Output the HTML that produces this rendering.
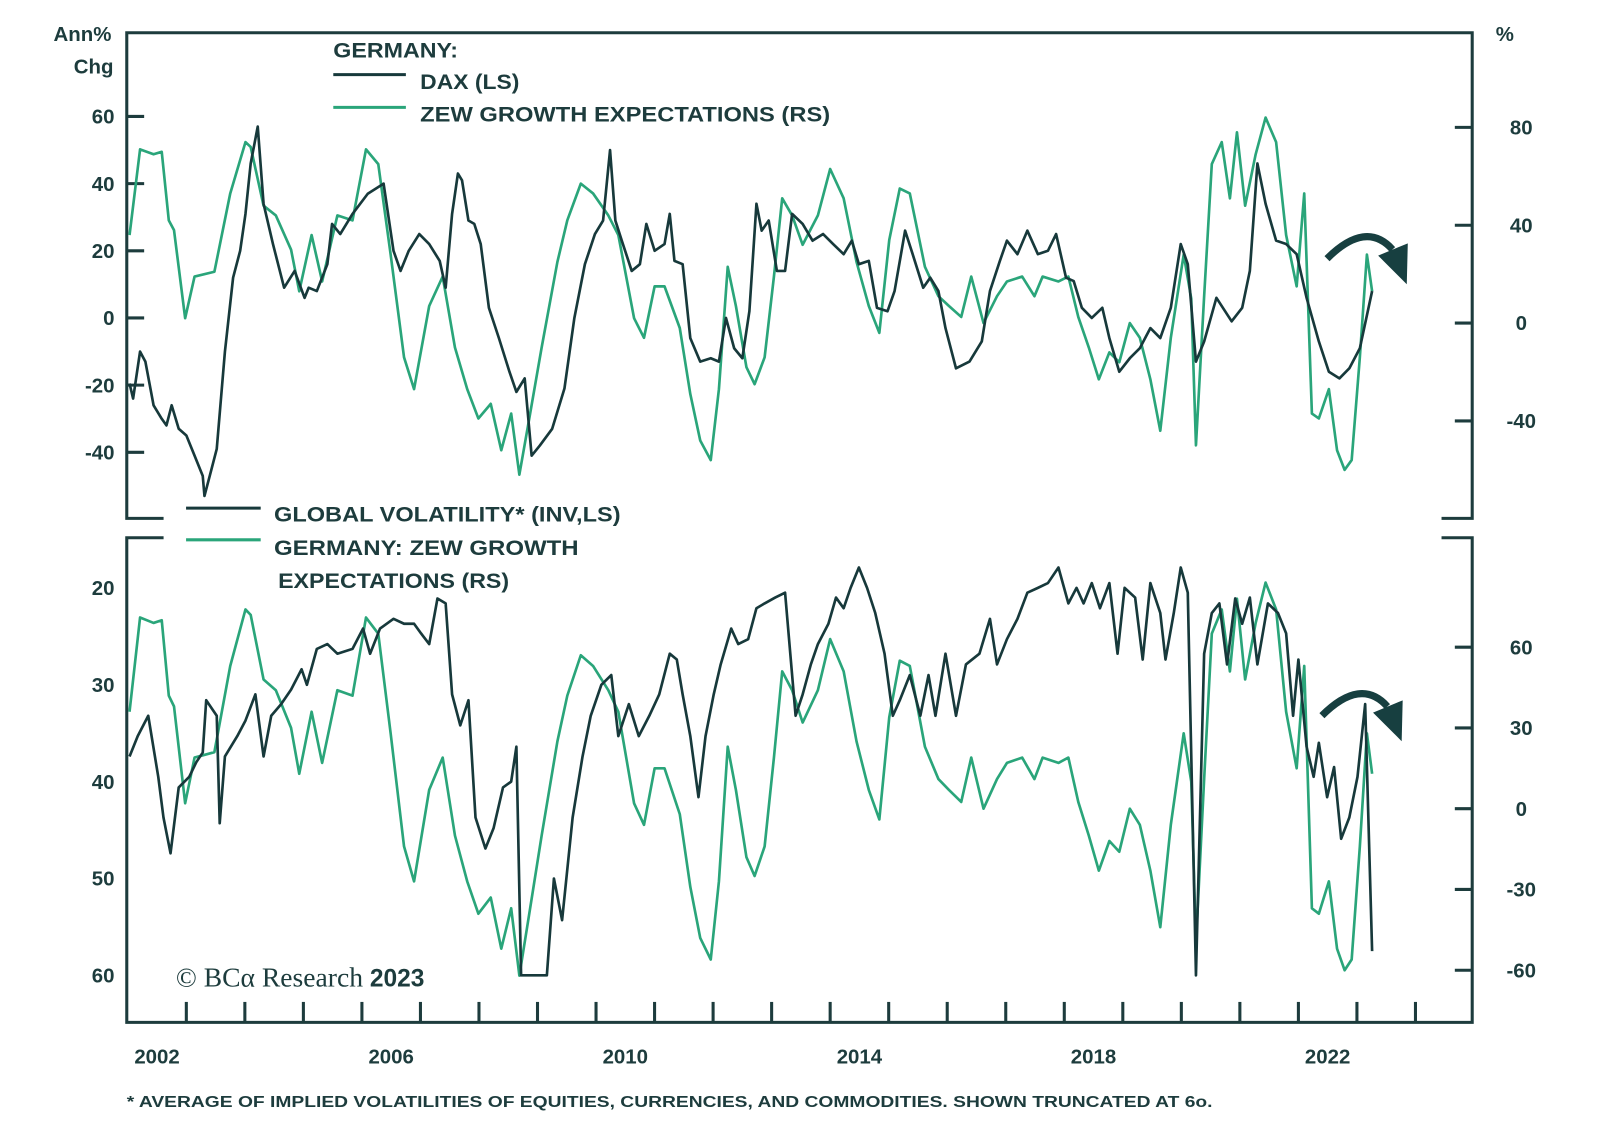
<!DOCTYPE html>
<html><head><meta charset="utf-8">
<style>
html,body{margin:0;padding:0;background:#fff;}
svg{display:block;font-family:"Liberation Sans",sans-serif;}
</style></head>
<body>
<svg id="chart" width="1600" height="1142" viewBox="0 0 1565 1117" xmlns="http://www.w3.org/2000/svg">
<g id="static" fill="#1d3c3d" stroke="none">
  <text x="109" y="40" font-size="20" text-anchor="end" font-weight="bold">Ann%</text>
  <text x="111" y="72" font-size="20" text-anchor="end" font-weight="bold">Chg</text>
  <text x="1463" y="40" font-size="20" font-weight="bold">%</text>
  <g font-size="21" font-weight="bold">
    <text x="326" y="56" textLength="122" lengthAdjust="spacingAndGlyphs">GERMANY:</text>
    <line x1="326" y1="73" x2="397" y2="73" stroke="#17393b" stroke-width="3"/>
    <text x="411" y="87" textLength="97" lengthAdjust="spacingAndGlyphs">DAX (LS)</text>
    <line x1="326" y1="105" x2="397" y2="105" stroke="#2aa57a" stroke-width="3"/>
    <text x="411" y="119" textLength="401" lengthAdjust="spacingAndGlyphs">ZEW GROWTH EXPECTATIONS (RS)</text>
  </g>
  <g font-size="21" font-weight="bold">
    <line x1="182" y1="497" x2="255" y2="497" stroke="#17393b" stroke-width="3"/>
    <text x="268" y="510" textLength="339" lengthAdjust="spacingAndGlyphs">GLOBAL VOLATILITY* (INV,LS)</text>
    <line x1="182" y1="528" x2="255" y2="528" stroke="#2aa57a" stroke-width="3"/>
    <text x="268" y="543" textLength="298" lengthAdjust="spacingAndGlyphs">GERMANY: ZEW GROWTH</text>
    <text x="272" y="575" textLength="226" lengthAdjust="spacingAndGlyphs">EXPECTATIONS (RS)</text>
  </g>
  <text x="172" y="965" font-size="27" font-family="Liberation Serif, serif">© BCα Research <tspan font-family="Liberation Sans, sans-serif" font-weight="bold" font-size="24">2023</tspan></text>
  <text x="124" y="1083" font-size="15" font-weight="bold" textLength="1062" lengthAdjust="spacingAndGlyphs">* AVERAGE OF IMPLIED VOLATILITIES OF EQUITIES, CURRENCIES, AND COMMODITIES. SHOWN TRUNCATED AT 6o.</text>
</g>
<g id="frame" fill="none" stroke="#1d3c3d" stroke-width="3">
  <path d="M160,507 L124,507 L124,32 L1440,32 L1440,507 L1410,507"/>
  <path d="M160,526 L124,526 L124,1000 L1440,1000 L1440,526 L1410,526"/>
</g>
<g id="axes"></g>
<g id="series"></g>
<g id="arrows" fill="#173f40" stroke="#173f40">
  <path d="M1298,253 Q1336,215 1362,244" fill="none" stroke-width="7"/>
  <polygon points="1348,250 1377,238 1376,278" stroke="none"/>
  <path d="M1293,700 Q1331,662 1357,691" fill="none" stroke-width="7"/>
  <polygon points="1343,697 1372,685 1371,725" stroke="none"/>
</g>
</svg>
<script>
const xYears = [2002,2006,2010,2014,2018,2022];
const leftTopTicks = [60,40,20,0,-20,-40];
const rightTopTicks = [80,40,0,-40];
const leftBottomTicks = [20,30,40,50,60];
const rightBottomTicks = [60,30,0,-30,-60];

const zewDates = [2002.03,2002.21,2002.44,2002.58,2002.70,2002.79,2002.98,2003.14,2003.48,2003.75,
2004.01,2004.10,2004.32,2004.53,2004.79,2004.93,2005.14,2005.32,2005.58,2005.84,
2006.07,2006.28,2006.49,2006.72,2006.89,2007.15,2007.38,2007.59,2007.80,2007.99,
2008.20,2008.38,2008.55,2008.69,2008.86,2009.07,2009.34,2009.51,2009.74,2009.95,
2010.21,2010.38,2010.65,2010.82,2011.00,2011.17,2011.43,2011.61,2011.78,2011.96,
2012.10,2012.25,2012.39,2012.57,2012.71,2012.88,2013.04,2013.18,2013.35,2013.53,
2013.79,2014.00,2014.23,2014.45,2014.66,2014.84,2015.01,2015.19,2015.36,2015.62,
2015.85,2016.03,2016.24,2016.41,2016.62,2016.85,2017.02,2017.28,2017.49,2017.63,
2017.90,2018.07,2018.24,2018.42,2018.59,2018.77,2018.94,2019.12,2019.29,2019.47,
2019.64,2019.82,2020.04,2020.17,2020.25,2020.39,2020.52,2020.69,2020.83,2020.95,
2021.09,2021.27,2021.44,2021.62,2021.79,2021.97,2022.10,2022.23,2022.35,2022.52,
2022.66,2022.79,2022.91,2023.05,2023.17,2023.26];
const zewValues = [36,71,69,70,42,38,2,19,21,53,
74,72,48,44,30,13,36,17,44,42,
71,65,28,-14,-27,7,19,-10,-27,-39,
-33,-52,-37,-62,-39,-10,25,42,57,53,
44,36,2,-6,15,15,-2,-29,-48,-56,
-27,23,7,-18,-25,-14,19,51,44,32,
44,63,51,25,7,-4,34,55,53,23,
11,7,2.5,19,0,11,17,19,11,19,
17,19,2.5,-10,-23,-12,-16,0,-6,-23,
-44,-6,28,10,-50,11,65,74,51,78,
48,69,84,74,36,15,53,-37,-39,-27,
-52,-60,-56,-14,28,13];

const daxDates = [2002.03,2002.09,2002.21,2002.30,2002.44,2002.58,2002.66,2002.75,2002.87,2003.00,
2003.14,2003.28,2003.31,2003.43,2003.52,2003.66,2003.80,2003.92,2004.01,2004.10,
2004.22,2004.32,2004.48,2004.67,2004.85,2005.02,2005.09,2005.23,2005.41,2005.49,
2005.63,2005.84,2006.10,2006.37,2006.54,2006.66,2006.80,2006.98,2007.15,2007.33,
2007.43,2007.54,2007.64,2007.71,2007.82,2007.92,2008.03,2008.17,2008.34,2008.52,
2008.64,2008.78,2008.90,2009.04,2009.25,2009.46,2009.63,2009.81,2009.98,2010.12,
2010.24,2010.33,2010.44,2010.61,2010.75,2010.86,2011.00,2011.17,2011.26,2011.34,
2011.48,2011.61,2011.78,2011.96,2012.10,2012.22,2012.36,2012.50,2012.62,2012.74,
2012.83,2012.95,2013.09,2013.23,2013.35,2013.53,2013.70,2013.88,2014.05,2014.23,
2014.37,2014.49,2014.66,2014.80,2014.98,2015.10,2015.28,2015.41,2015.59,2015.71,
2015.85,2015.97,2016.15,2016.38,2016.59,2016.73,2016.90,2017.02,2017.20,2017.37,
2017.55,2017.72,2017.86,2018.03,2018.16,2018.30,2018.47,2018.65,2018.77,2018.94,
2019.12,2019.29,2019.47,2019.64,2019.82,2019.99,2020.11,2020.25,2020.39,2020.60,
2020.86,2021.04,2021.17,2021.30,2021.44,2021.62,2021.79,2021.97,2022.14,2022.35,
2022.52,2022.70,2022.87,2023.05,2023.26];
const daxValues = [-19.5,-24,-10,-13,-26,-30,-32,-26,-33,-35,
-41,-47,-53,-45,-39,-10,12,20,31,46,
57,34,22,9,14,6,9,8,16,28,
25,31,37,40,20,14,20,25,22,17,
9,31,43,41,29,28,22,3,-6,-16,
-22,-18,-41,-38,-33,-21,0,16,25,29,
50,29,23,14,16,28,20,22,31,17,
16,-6,-13,-12,-13,0,-9,-12,2,34,
26,29,14,14,31,28,23,25,22,19,
23,16,17,3,2,8,26,19,9,12,
8,-3,-15,-13,-7,8,17,23,19,26,
19,20,25,12,11,3,0,3,-6,-16,
-12,-9,-3,-6,3,22,16,-13,-7,6,
-1,3,14,46,34,23,22,19,6,-7,
-16,-18,-15,-9,8];

const volDates = [2002.03,2002.17,2002.35,2002.52,2002.61,2002.73,2002.87,2003.05,2003.17,2003.28,
2003.34,2003.52,2003.57,2003.66,2003.87,2004.01,2004.18,2004.32,2004.45,2004.62,
2004.79,2004.97,2005.06,2005.23,2005.41,2005.58,2005.84,2006.02,2006.14,2006.31,
2006.54,2006.72,2006.89,2007.01,2007.15,2007.29,2007.43,2007.54,2007.68,2007.82,
2007.94,2008.11,2008.25,2008.41,2008.55,2008.64,2008.72,2008.99,2009.16,2009.28,
2009.42,2009.60,2009.77,2009.91,2010.09,2010.26,2010.38,2010.56,2010.73,2010.91,
2011.08,2011.26,2011.38,2011.48,2011.61,2011.75,2011.87,2012.01,2012.13,2012.31,
2012.43,2012.60,2012.74,2012.88,2013.06,2013.23,2013.41,2013.53,2013.67,2013.79,
2013.97,2014.10,2014.23,2014.35,2014.49,2014.63,2014.77,2014.93,2015.07,2015.19,
2015.36,2015.54,2015.68,2015.80,2015.97,2016.15,2016.32,2016.55,2016.73,2016.85,
2017.02,2017.20,2017.37,2017.55,2017.72,2017.90,2018.07,2018.21,2018.33,2018.47,
2018.61,2018.77,2018.91,2019.03,2019.21,2019.34,2019.47,2019.64,2019.73,2019.87,
2019.99,2020.11,2020.25,2020.39,2020.52,2020.65,2020.78,2020.92,2021.04,2021.17,
2021.30,2021.48,2021.65,2021.79,2021.91,2022.00,2022.14,2022.26,2022.35,2022.49,
2022.61,2022.73,2022.87,2023.01,2023.14,2023.26];
const volValues = [37.4,35.3,33.2,39.5,43.7,47.4,40.6,39.5,38,37,
31.6,33.2,44.3,37.4,35.3,33.7,31,37.4,33.2,32,
30.5,28.4,30,26.3,25.8,26.8,26.3,24.2,26.8,24.2,
23.2,23.7,23.7,24.7,25.8,21.1,21.6,31,34.2,31.6,
43.7,46.9,44.8,40.6,40,36.4,60,60,60,50,
54.3,43.7,37.4,33.2,30,29,35.3,32,35.3,33.2,
31,26.8,27.4,31,35.3,41.6,35.3,31,27.9,24.2,
25.8,25.3,22.1,21.6,21,20.5,33.2,31,27.9,25.8,
23.7,21,22.1,20,17.9,20,22.6,26.8,33.2,31.6,
29,33.2,29,33.2,26.8,33.2,27.9,26.8,23.2,27.9,
25.3,23.2,20.5,20,19.5,17.9,21.6,20,21.6,19.5,
22.1,19.5,26.8,20,21,27.4,19.5,22.6,27.4,22.6,
17.9,20.5,60,26.8,22.6,21.6,27.9,21.1,23.7,21,
27.9,21.6,22.6,24.7,33.2,27.4,36.4,39.5,36,41.6,
38.5,45.9,43.7,39.5,32,57.5];

const NS = 'http://www.w3.org/2000/svg';
const DARK = '#17393b', GREEN = '#2aa57a', INK = '#1d3c3d';
function xOf(y){ return 125 + (y - 2002) * 57.25; }
function yTopL(v){ return 311 - v * 65.7 / 20; }
function yTopR(v){ return 316 - v * 95.7 / 40; }
function yBotL(v){ return 575 + (v - 20) * 94.75 / 10; }
function yBotR(v){ return 791 - v * 79 / 30; }

function mk(tag, attrs, parent){
  const el = document.createElementNS(NS, tag);
  for (const k in attrs) el.setAttribute(k, attrs[k]);
  parent.appendChild(el);
  return el;
}
const axes = document.getElementById('axes');
const series = document.getElementById('series');

function tickLabel(txt, x, y, anchor, name){
  const t = mk('text', {x:x, y:y+7, 'font-size':20, 'font-weight':'bold', fill:INK, 'text-anchor':anchor}, axes);
  t.textContent = txt;
  
  
}
function tickMark(x1,y1,x2,y2,name){
  const l = mk('line', {x1:x1,y1:y1,x2:x2,y2:y2,stroke:INK,'stroke-width':3}, axes);
  
  
}
leftTopTicks.forEach(v => { tickLabel(String(v), 112, yTopL(v), 'end', 'left-top-tick-label'); tickMark(124, yTopL(v), 141, yTopL(v), 'left-top-tick'); });
rightTopTicks.forEach(v => { tickLabel(String(v), 1488, yTopR(v), 'middle', 'right-top-tick-label'); tickMark(1423, yTopR(v), 1440, yTopR(v), 'right-top-tick'); });
leftBottomTicks.forEach(v => { tickLabel(String(v), 112, yBotL(v), 'end', 'left-bottom-tick-label'); });
rightBottomTicks.forEach(v => { tickLabel(String(v), 1488, yBotR(v), 'middle', 'right-bottom-tick-label'); tickMark(1423, yBotR(v), 1440, yBotR(v), 'right-bottom-tick'); });
for (let yr = 2003; yr <= 2024; yr++){ tickMark(xOf(yr), 980, xOf(yr), 1000, 'x-axis-tick'); }
xYears.forEach(yr => {
  const t = mk('text', {x:xOf(yr + 0.5), y:1040, 'font-size':20, 'font-weight':'bold', fill:INK, 'text-anchor':'middle'}, axes);
  t.textContent = String(yr);
  
  
});

function line(dates, vals, yf, color, name){
  const d = dates.map((dt,i) => (i ? 'L' : 'M') + xOf(dt).toFixed(1) + ',' + yf(vals[i]).toFixed(1)).join(' ');
  const p = mk('path', {d:d, fill:'none', stroke:color, 'stroke-width':2.6, 'stroke-linejoin':'round'}, series);
  
  
}
line(zewDates, zewValues, yTopR, GREEN, 'zew-line-top');
line(daxDates, daxValues, yTopL, DARK, 'dax-line');
line(zewDates, zewValues, yBotR, GREEN, 'zew-line-bottom');
line(volDates, volValues, yBotL, DARK, 'volatility-line');
</script>
</body></html>
